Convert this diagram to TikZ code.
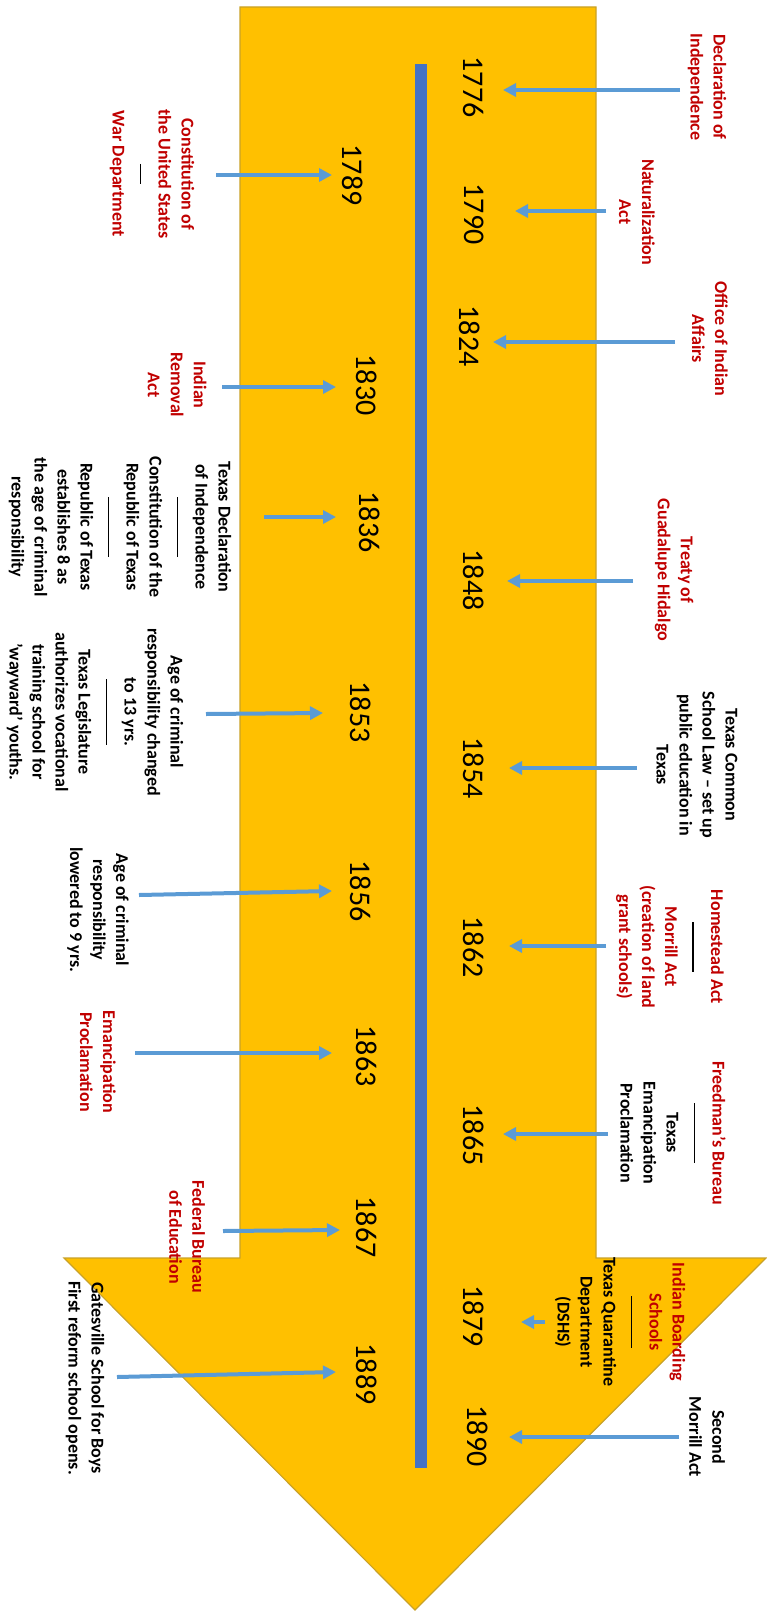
\documentclass[tikz,border=0pt]{standalone}
\usepackage{fontspec}
\setmainfont{Carlito}
\usetikzlibrary{arrows.meta}

\definecolor{arrowgold}{HTML}{FFC000}
\definecolor{goldedge}{HTML}{C9A227}
\definecolor{barblue}{HTML}{4472C4}
\definecolor{linkblue}{HTML}{5B9BD5}
\definecolor{evred}{HTML}{C00000}

\newcommand{\sepline}[1]{\textcolor{black}{\rule[2pt]{#1}{0.8pt}}}

\tikzset{
  yr/.style={rotate=-90, inner sep=0pt, font=\fontsize{15}{15}\selectfont},
  evt/.style={rotate=-90, inner sep=0pt, align=center, font=\fontsize{9}{11.5}\selectfont\bfseries},
  redevt/.style={evt, text=evred},
  evarrow/.style={draw=linkblue, line width=2pt, -{Triangle[length=6.5pt,width=6.5pt]}},
}

\begin{document}
\begin{tikzpicture}[x=0.5pt,y=-0.5pt,line join=miter]
      \useasboundingbox (0,0) rectangle (766,1611);

      % Big arrow
      \draw[fill=arrowgold, draw=goldedge, line width=0.6pt] (240,7) -- (596,7) -- (596,1258) -- (766,1258)
            -- (415,1610) -- (64,1258) -- (240,1258) -- cycle;

      % Time bar
      \fill[barblue] (415,64) rectangle (427,1468);

      % Years, right of the bar
      \node[yr] (y1776) at (474,87) {1776};
      \node[yr] (y1790) at (474,214) {1790};
      \node[yr] (y1824) at (470,336) {1824};
      \node[yr] (y1848) at (474,580) {1848};
      \node[yr] (y1854) at (474,768) {1854};
      \node[yr] (y1862) at (474,947) {1862};
      \node[yr] (y1865) at (474,1135) {1865};
      \node[yr] (y1879) at (474,1316) {1879};
      \node[yr] (y1890) at (478,1436) {1890};

      % Years, left of the bar
      \node[yr] (y1789) at (353,175) {1789};
      \node[yr] (y1830) at (367,385) {1830};
      \node[yr] (y1836) at (370,522) {1836};
      \node[yr] (y1853) at (361,712) {1853};
      \node[yr] (y1856) at (361,891) {1856};
      \node[yr] (y1863) at (367,1056) {1863};
      \node[yr] (y1867) at (367,1227) {1867};
      \node[yr] (y1889) at (367,1374) {1889};

      % Events, right side
      \node[redevt] (d1776) at (707,87) {Declaration of\\Independence};
      \node[redevt] (d1790) at (637,212) {Naturalization\\Act};
      \node[redevt] (d1824) at (710,339) {Office of Indian\\Affairs};
      \node[redevt] (d1848) at (674,570) {Treaty of\\Guadalupe Hidalgo};
      \node[evt] (d1854) at (697,765) {Texas Common\\School Law -- set up\\public education in\\Texas};
      \node[redevt] (d1862) at (670,947) {Homestead Act\\\sepline{25pt}\\Morrill Act\\(creation of land\\grant schools)};
      \node[evt] (d1865) at (673,1133) {\textcolor{evred}{Freedman's Bureau}\\\sepline{30pt}\\Texas\\Emancipation\\Proclamation};
      \node[evt] (d1879) at (620,1322) {\textcolor{evred}{Indian Boarding}\\\textcolor{evred}{Schools}\\\sepline{26pt}\\Texas Quarantine\\Department\\(DSHS)};
      \node[evt] (d1890) at (707,1437) {Second\\Morrill Act};

      % Events, left side
      \node[redevt] (d1789) at (152,174) {Constitution of\\the United States\\\sepline{10pt}\\War Department};
      \node[redevt] (d1830) at (177,385) {Indian\\Removal\\Act};
      \node[evt] (d1836) at (120,527) {Texas Declaration\\of Independence\\\sepline{30pt}\\Constitution of the\\Republic of Texas\\\sepline{30pt}\\Republic of Texas\\establishes 8 as\\the age of criminal\\responsibility};
      \node[evt] (d1853) at (95,712) {Age of criminal\\responsibility changed\\to 13 yrs.\\\sepline{33pt}\\Texas Legislature\\authorizes vocational\\training school for\\'wayward' youths.};
      \node[evt] (d1856) at (98,910) {Age of criminal\\responsibility\\lowered to 9 yrs.};
      \node[redevt] (d1863) at (98,1062) {Emancipation\\Proclamation};
      \node[redevt] (d1867) at (187,1237) {Federal Bureau\\of Education};
      \node[evt] (d1889) at (85,1378) {Gatesville School for Boys\\First reform school opens.};

      % Arrow ends
      \coordinate (s1776) at (680,90);   \coordinate (e1776) at (503,90);
      \coordinate (s1790) at (606,211);  \coordinate (e1790) at (515,211);
      \coordinate (s1824) at (675,342);  \coordinate (e1824) at (493,342);
      \coordinate (s1848) at (633,581);  \coordinate (e1848) at (507,581);
      \coordinate (s1854) at (637,768);  \coordinate (e1854) at (509,768);
      \coordinate (s1862) at (606,946);  \coordinate (e1862) at (509,946);
      \coordinate (s1865) at (608,1134); \coordinate (e1865) at (503,1134);
      \coordinate (s1879) at (545,1322); \coordinate (e1879) at (521,1322);
      \coordinate (s1890) at (679,1437); \coordinate (e1890) at (509,1437);
      \coordinate (s1789) at (216,175);  \coordinate (e1789) at (332,175);
      \coordinate (s1830) at (222,387);  \coordinate (e1830) at (336,387);
      \coordinate (s1836) at (264,517);  \coordinate (e1836) at (336,517);
      \coordinate (s1853) at (206,714);  \coordinate (e1853) at (323,713);
      \coordinate (s1856) at (139,895);  \coordinate (e1856) at (332,891);
      \coordinate (s1863) at (135,1053); \coordinate (e1863) at (332,1053);
      \coordinate (s1867) at (223,1231); \coordinate (e1867) at (340,1230);
      \coordinate (s1889) at (117,1377); \coordinate (e1889) at (336,1372);

      % Add Arrows
      \foreach \yy in {1776,1790,1824,1848,1854,1862,1865,1879,1890,1789,1830,1836,1853,1856,1863,1867,1889}
        \draw[evarrow] (s\yy) -- (e\yy);
\end{tikzpicture}
\end{document}
